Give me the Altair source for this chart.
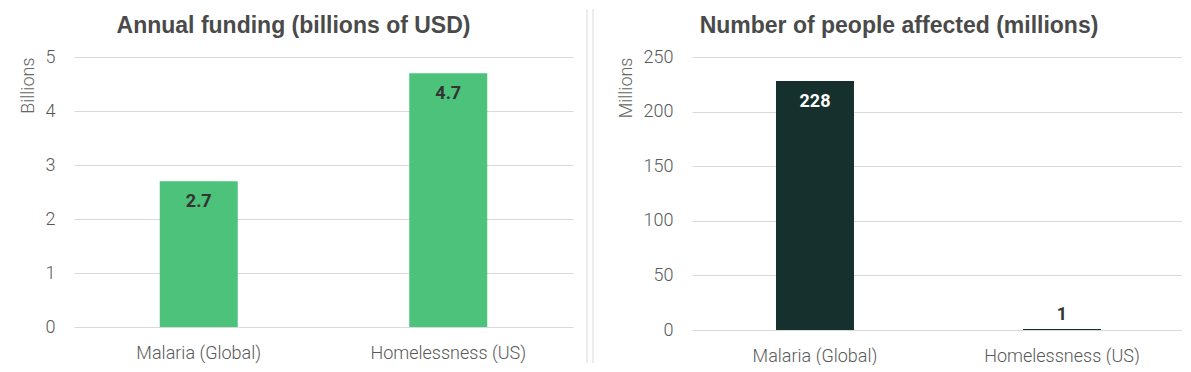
import altair as alt
import pandas as pd

causes = ["Malaria (Global)", "Homelessness (US)"]
funding_billions = [2.7, 4.7]
funding_labels = ["2.7", "4.7"]
people_millions = [228, 1]
people_labels = ["228", "1"]

funding_ticks = [0, 1, 2, 3, 4, 5]
people_ticks = [0, 50, 100, 150, 200, 250]

GREEN = "#4CC27A"
DARK = "#15302D"
FONT = "Roboto"
LIGHT = "Roboto Light, Roboto"
TITLE_FONT = "Liberation Sans, Arial"


def make_df(values, labels, top, inside_color):
    df = pd.DataFrame({"cause": causes, "value": values, "label": labels})
    df["inside"] = df["value"] / top > 0.1
    df["tcolor"] = [inside_color if i else "#333333" for i in df["inside"]]
    return df


def panel(df, title, ytitle, ticks, bar_color, w, h, pin, pout, align, title_dx):
    x = alt.X(
        "cause:N",
        sort=causes,
        title=None,
        scale=alt.Scale(paddingInner=pin, paddingOuter=pout, align=align),
        axis=alt.Axis(
            labelAngle=0, labelPadding=17, domain=False, ticks=False,
            labelFontSize=18, labelFont=LIGHT, labelFontWeight=300,
            labelColor="#595959", grid=False,
        ),
    )
    y = alt.Y(
        "value:Q",
        scale=alt.Scale(domain=[ticks[0], ticks[-1]], nice=False),
        axis=alt.Axis(
            values=ticks, title=ytitle, titleAnchor="end", titleAngle=-90,
            titleFont=LIGHT, titleFontSize=18, titleFontWeight=300,
            titleColor="#666666", titlePadding=8,
            labelFont=LIGHT, labelFontSize=18, labelFontWeight=300,
            labelColor="#595959", labelPadding=19,
            domain=False, ticks=False, grid=True, gridColor="#d9d9d9",
        ),
    )
    base = alt.Chart(df)
    bars = base.mark_bar(color=bar_color).encode(x=x, y=y)
    inside = base.transform_filter("datum.inside").mark_text(
        baseline="alphabetic", dy=26, fontSize=18, fontWeight="bold", font=FONT
    ).encode(x=x, y=y, text="label:N", color=alt.Color("tcolor:N", scale=None))
    above = base.transform_filter("!datum.inside").mark_text(
        baseline="alphabetic", dy=-9, fontSize=18, fontWeight="bold", font=FONT
    ).encode(x=x, y=y, text="label:N", color=alt.Color("tcolor:N", scale=None))
    return alt.layer(bars, inside, above).properties(
        width=w, height=h,
        title=alt.TitleParams(
            title, frame="group", anchor="middle", fontSize=23, font=TITLE_FONT,
            fontWeight="bold", color="#4a4a4a", offset=10, dx=title_dx,
        ),
    )


df1 = make_df(funding_billions, funding_labels, funding_ticks[-1], "#333333")
df2 = make_df(people_millions, people_labels, people_ticks[-1], "#FFFFFF")

left = panel(df1, "Annual funding (billions of USD)", "Billions", funding_ticks,
             GREEN, 499, 270, 0.6874, 0.3437, 0.5, -30)
right = panel(df2, "Number of people affected (millions)", "Millions", people_ticks,
              DARK, 490, 273, 0.6842, 0.334, 0.509, -38)

sep_data = alt.Data(values=[{"p": 0}, {"p": 6}])
sep = alt.Chart(sep_data).mark_rule(color="#d9d9d9", strokeWidth=1).encode(
    x=alt.X("p:Q", scale=alt.Scale(domain=[0, 17], nice=False), axis=None),
    y=alt.value(-48), y2=alt.value(306),
).properties(width=17, height=270)

chart = alt.hconcat(left, sep, right, spacing=13).properties(
    padding={"left": 11, "top": 0, "right": 0, "bottom": 0}
).configure_view(stroke=None)

chart.save("out.html", embed_options={"renderer": "svg", "actions": False})
